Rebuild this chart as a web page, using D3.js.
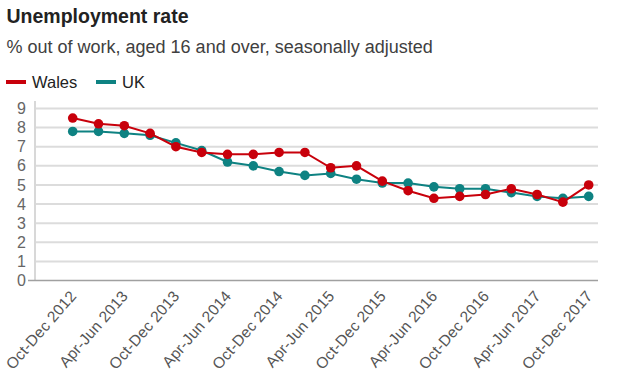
<!DOCTYPE html>
<html>
<head>
<meta charset="utf-8">
<script src="https://cdn.jsdelivr.net/npm/d3@7"></script>
<style>
  body { margin: 0; background: #fff; }
  svg { font-family: "Liberation Sans", Arial, sans-serif; display: block; }
</style>
</head>
<body>
<div id="chart"></div>
<script>
// Data
// =================================
var quarters = [
  "Oct-Dec 2012", "Jan-Mar 2013", "Apr-Jun 2013", "Jul-Sep 2013",
  "Oct-Dec 2013", "Jan-Mar 2014", "Apr-Jun 2014", "Jul-Sep 2014",
  "Oct-Dec 2014", "Jan-Mar 2015", "Apr-Jun 2015", "Jul-Sep 2015",
  "Oct-Dec 2015", "Jan-Mar 2016", "Apr-Jun 2016", "Jul-Sep 2016",
  "Oct-Dec 2016", "Jan-Mar 2017", "Apr-Jun 2017", "Jul-Sep 2017",
  "Oct-Dec 2017"
];
var walesRate = [8.5, 8.2, 8.1, 7.7, 7.0, 6.7, 6.6, 6.6, 6.7, 6.7, 5.9,
                 6.0, 5.2, 4.7, 4.3, 4.4, 4.5, 4.8, 4.5, 4.1, 5.0];
var ukRate    = [7.8, 7.8, 7.7, 7.6, 7.2, 6.8, 6.2, 6.0, 5.7, 5.5, 5.6,
                 5.3, 5.1, 5.1, 4.9, 4.8, 4.8, 4.6, 4.4, 4.3, 4.4];
var yTicks = [0, 1, 2, 3, 4, 5, 6, 7, 8, 9];
var seriesNames = ["Wales", "UK"];
var seriesColors = ["#c8000b", "#0e8282"];

// Set up chart
// =================================
var svgWidth  = 620;
var svgHeight = 385;

var plot = { left: 35, right: 598, top: 108.5, bottom: 280.5 };

var svg = d3.select("#chart")
  .append("svg")
  .attr("width", svgWidth)
  .attr("height", svgHeight);

// Title, subtitle
svg.append("text")
  .attr("x", 6.5)
  .attr("y", 23)
  .attr("font-size", 19.5)
  .attr("font-weight", "bold")
  .attr("fill", "#222")
  .text("Unemployment rate");

svg.append("text")
  .attr("x", 6.5)
  .attr("y", 53)
  .attr("font-size", 18)
  .attr("fill", "#404040")
  .text("% out of work, aged 16 and over, seasonally adjusted");

// Legend
var legend = svg.append("g")
  .selectAll("g")
  .data(seriesNames)
  .enter().append("g")
    .attr("transform", (d, i) => `translate(${6 + i * 90}, 0)`);

legend.append("rect")
  .attr("x", 0)
  .attr("y", 80)
  .attr("width", 20)
  .attr("height", 4)
  .attr("fill", (d, i) => seriesColors[i]);

legend.append("text")
  .attr("x", 26)
  .attr("y", 88)
  .attr("font-size", 16.5)
  .attr("fill", "#222")
  .text(d => d);

// Scales
// =================================
var xScale = d3.scalePoint()
  .domain(quarters)
  .range([72.7, 588.7]);

var yScale = d3.scaleLinear()
  .domain([0, 9])
  .range([plot.bottom, plot.top]);

// Gridlines + y labels
// =================================
var grid = svg.append("g");
grid.selectAll("line")
  .data(yTicks.filter(d => d > 0))
  .enter().append("line")
    .attr("x1", plot.left)
    .attr("x2", plot.right)
    .attr("y1", d => yScale(d))
    .attr("y2", d => yScale(d))
    .attr("stroke", "#dcdcdc")
    .attr("stroke-width", 2);

var yAxis = d3.axisLeft(yScale)
  .tickValues(yTicks)
  .tickSize(0)
  .tickPadding(9);

var yAxisG = svg.append("g")
  .attr("transform", `translate(${plot.left}, 0)`)
  .call(yAxis);
yAxisG.select(".domain").remove();
yAxisG.selectAll("text")
  .attr("font-size", 16)
  .attr("font-family", "Liberation Sans, Arial, sans-serif")
  .attr("fill", "#666");

// left axis line
svg.append("line")
  .attr("x1", plot.left)
  .attr("x2", plot.left)
  .attr("y1", 101)
  .attr("y2", plot.bottom)
  .attr("stroke", "#d8d8d8")
  .attr("stroke-width", 2);

// bottom axis line
svg.append("line")
  .attr("x1", 28)
  .attr("x2", plot.right)
  .attr("y1", plot.bottom)
  .attr("y2", plot.bottom)
  .attr("stroke", "#a0a0a0")
  .attr("stroke-width", 1.5);

// x labels, every other quarter
// =================================
var xAxis = d3.axisBottom(xScale)
  .tickValues(quarters.filter((d, i) => i % 2 === 0))
  .tickSize(0)
  .tickPadding(0);

var xAxisG = svg.append("g")
  .attr("transform", `translate(0, ${plot.bottom})`)
  .call(xAxis);
xAxisG.select(".domain").remove();
xAxisG.selectAll("text")
  .attr("font-size", 15.5)
  .attr("letter-spacing", 0.2)
  .attr("font-family", "Liberation Sans, Arial, sans-serif")
  .attr("fill", "#555")
  .attr("text-anchor", "end")
  .attr("dy", 0)
  .attr("y", 0)
  .attr("transform", "translate(4, 16) rotate(-49)");

// Lines and dots
// =================================
var series = [walesRate, ukRate];
var line = d3.line()
  .x((d, i) => xScale(quarters[i]))
  .y(d => yScale(d));

// UK drawn first, Wales on top
[1, 0].forEach(function(s) {
  var g = svg.append("g");
  g.append("path")
    .datum(series[s])
    .attr("d", line)
    .attr("fill", "none")
    .attr("stroke", seriesColors[s])
    .attr("stroke-width", 2);
  g.selectAll("circle")
    .data(series[s])
    .enter().append("circle")
      .attr("cx", (d, i) => xScale(quarters[i]))
      .attr("cy", d => yScale(d))
      .attr("r", 4.8)
      .attr("fill", seriesColors[s]);
});
</script>
</body>
</html>
